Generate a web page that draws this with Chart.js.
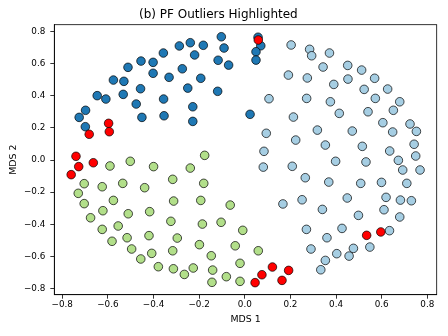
<!DOCTYPE html>
<html>
<head>
<meta charset="utf-8">
<script src="https://cdn.jsdelivr.net/npm/chart.js@4/dist/chart.umd.min.js"></script>
<style>
  html, body { margin: 0; padding: 0; background: #fff; }
  #wrap { width: 448px; height: 336px; }
</style>
</head>
<body>
<div id="wrap"><canvas id="mdsChart" width="448" height="336"></canvas></div>
<script>
// MDS coordinates
const outlierX = [-0.597, -0.594, -0.682, -0.740, -0.728, -0.664, -0.761, 0.059, 0.045, 0.075, 0.121, 0.163, 0.192, 0.534, 0.596];
const outlierY = [0.228, 0.176, 0.160, 0.023, -0.041, -0.017, -0.091, 0.746, -0.762, -0.713, -0.665, -0.748, -0.686, -0.468, -0.447];

const darkX = [-0.103, -0.239, -0.182, -0.287, -0.091, -0.357, -0.220, -0.117, -0.455, -0.402, -0.071, -0.512, -0.274, -0.402, -0.332, -0.193, -0.576, -0.530, -0.250, -0.457, -0.119, -0.533, -0.647, -0.609, -0.356, -0.476, -0.228, -0.698, -0.726, -0.451, -0.354, -0.228, -0.699, 0.023, 0.058, 0.070, 0.049, 0.049];
const darkY = [0.766, 0.729, 0.713, 0.709, 0.696, 0.665, 0.653, 0.620, 0.615, 0.607, 0.590, 0.576, 0.567, 0.539, 0.514, 0.508, 0.497, 0.489, 0.447, 0.443, 0.427, 0.408, 0.400, 0.379, 0.379, 0.348, 0.331, 0.309, 0.265, 0.265, 0.275, 0.240, 0.207, 0.284, 0.763, 0.710, 0.673, 0.621];

const greenX = [-0.176, -0.502, -0.591, -0.400, -0.239, -0.316, -0.704, -0.535, -0.180, -0.625, -0.439, -0.730, -0.576, -0.312, -0.193, -0.704, -0.064, -0.622, -0.511, -0.417, -0.676, -0.324, -0.186, -0.104, -0.555, -0.625, -0.009, -0.420, -0.296, -0.516, -0.582, -0.199, -0.042, -0.316, -0.496, -0.408, -0.147, -0.456, -0.021, -0.379, -0.313, -0.226, -0.141, -0.265, -0.081, -0.144, -0.021, 0.059];
const greenY = [0.029, -0.008, -0.037, -0.041, -0.050, -0.120, -0.147, -0.145, -0.145, -0.166, -0.172, -0.207, -0.251, -0.255, -0.251, -0.271, -0.280, -0.315, -0.334, -0.321, -0.359, -0.381, -0.398, -0.387, -0.410, -0.431, -0.437, -0.470, -0.485, -0.483, -0.505, -0.526, -0.533, -0.564, -0.553, -0.580, -0.595, -0.615, -0.642, -0.663, -0.676, -0.671, -0.684, -0.711, -0.725, -0.760, -0.754, -0.564];

const lightX = [0.203, 0.284, 0.293, 0.371, 0.343, 0.451, 0.512, 0.191, 0.274, 0.452, 0.569, 0.390, 0.523, 0.626, 0.106, 0.271, 0.375, 0.572, 0.679, 0.414, 0.540, 0.651, 0.213, 0.605, 0.724, 0.318, 0.471, 0.648, 0.752, 0.094, 0.223, 0.353, 0.515, 0.742, 0.084, 0.635, 0.749, 0.398, 0.531, 0.673, 0.081, 0.208, 0.692, 0.768, 0.265, 0.368, 0.508, 0.599, 0.710, 0.167, 0.251, 0.449, 0.619, 0.682, 0.730, 0.340, 0.610, 0.498, 0.679, 0.270, 0.426, 0.634, 0.360, 0.290, 0.476, 0.548, 0.403, 0.457, 0.353, 0.333];
const lightY = [0.715, 0.688, 0.648, 0.665, 0.578, 0.588, 0.559, 0.528, 0.510, 0.503, 0.508, 0.470, 0.439, 0.441, 0.381, 0.383, 0.362, 0.383, 0.362, 0.290, 0.300, 0.309, 0.267, 0.232, 0.224, 0.186, 0.180, 0.174, 0.178, 0.166, 0.124, 0.093, 0.085, 0.098, 0.054, 0.056, 0.025, -0.008, -0.012, -0.002, -0.044, -0.039, -0.062, -0.062, -0.110, -0.137, -0.145, -0.139, -0.145, -0.273, -0.247, -0.236, -0.232, -0.249, -0.253, -0.307, -0.309, -0.344, -0.354, -0.431, -0.425, -0.439, -0.483, -0.553, -0.549, -0.541, -0.582, -0.597, -0.624, -0.682];

const tickValues = [-0.8, -0.6, -0.4, -0.2, 0.0, 0.2, 0.4, 0.6, 0.8];

function toPoints(xs, ys) {
    return xs.map((x, i) => ({ x: x, y: ys[i] }));
}

function fmtTick(v) {
    const s = Math.abs(v).toFixed(1);
    return v < -1e-9 ? '\u2212' + s : s;
}

// frame around the plot area, like matplotlib spines
const frame = {
    id: 'frame',
    afterDatasetsDraw(chart) {
        const a = chart.chartArea;
        const ctx = chart.ctx;
        ctx.save();
        ctx.strokeStyle = '#000';
        ctx.lineWidth = 0.8;
        ctx.strokeRect(a.left, a.top, a.right - a.left, a.bottom - a.top);
        ctx.restore();
    }
};

const font = 'DejaVu Sans';

function pointSet(label, data, color) {
    return {
        label: label,
        data: data,
        backgroundColor: color,
        borderColor: '#000',
        borderWidth: 0.7,
        pointRadius: 4.3,
        pointHoverRadius: 4.3
    };
}

const ctx = document.getElementById('mdsChart').getContext('2d');
new Chart(ctx, {
    type: 'scatter',
    data: {
        datasets: [
            pointSet('PF outliers', toPoints(outlierX, outlierY), '#ff0000'),
            pointSet('Cluster 1', toPoints(darkX, darkY), '#1f78b4'),
            pointSet('Cluster 2', toPoints(lightX, lightY), '#a6cee3'),
            pointSet('Cluster 3', toPoints(greenX, greenY), '#b2df8a')
        ]
    },
    options: {
        responsive: false,
        animation: false,
        devicePixelRatio: 1,
        layout: { padding: { left: 0, right: 11.3, top: 0, bottom: 0 } },
        scales: {
            x: {
                type: 'linear',
                min: -0.835,
                max: 0.841,
                afterBuildTicks: function (scale) {
                    scale.ticks = tickValues.map(v => ({ value: v }));
                },
                afterFit: function (scale) { scale.height = 41.3; },
                grid: { drawOnChartArea: false, drawTicks: true, tickLength: 4, color: '#000', lineWidth: 0.8 },
                border: { display: true, color: '#000', width: 0.8 },
                ticks: {
                    padding: 1,
                    color: '#000',
                    font: { family: font, size: 8.8 },
                    maxRotation: 0,
                    callback: v => fmtTick(v)
                },
                title: {
                    display: true,
                    text: 'MDS 1',
                    color: '#000',
                    font: { family: font, size: 9.4 },
                    padding: { top: 0, bottom: 10.4 }
                }
            },
            y: {
                type: 'linear',
                min: -0.837,
                max: 0.841,
                afterBuildTicks: function (scale) {
                    scale.ticks = tickValues.map(v => ({ value: v }));
                },
                afterFit: function (scale) { scale.width = 54.3; },
                grid: { drawOnChartArea: false, drawTicks: true, tickLength: 4, color: '#000', lineWidth: 0.8 },
                border: { display: true, color: '#000', width: 0.8 },
                ticks: {
                    padding: 5,
                    color: '#000',
                    font: { family: font, size: 8.8 },
                    callback: v => fmtTick(v)
                },
                title: {
                    display: true,
                    text: 'MDS 2',
                    color: '#000',
                    font: { family: font, size: 9.4 },
                    padding: { top: 7.7, bottom: 0 }
                }
            }
        },
        plugins: {
            legend: { display: false },
            tooltip: { enabled: false },
            title: {
                display: true,
                text: '(b) PF Outliers Highlighted',
                color: '#000',
                font: { family: font, size: 12, weight: 'normal' },
                padding: { top: 8, bottom: 2.3 }
            }
        }
    },
    plugins: [frame]
});
</script>
</body>
</html>
